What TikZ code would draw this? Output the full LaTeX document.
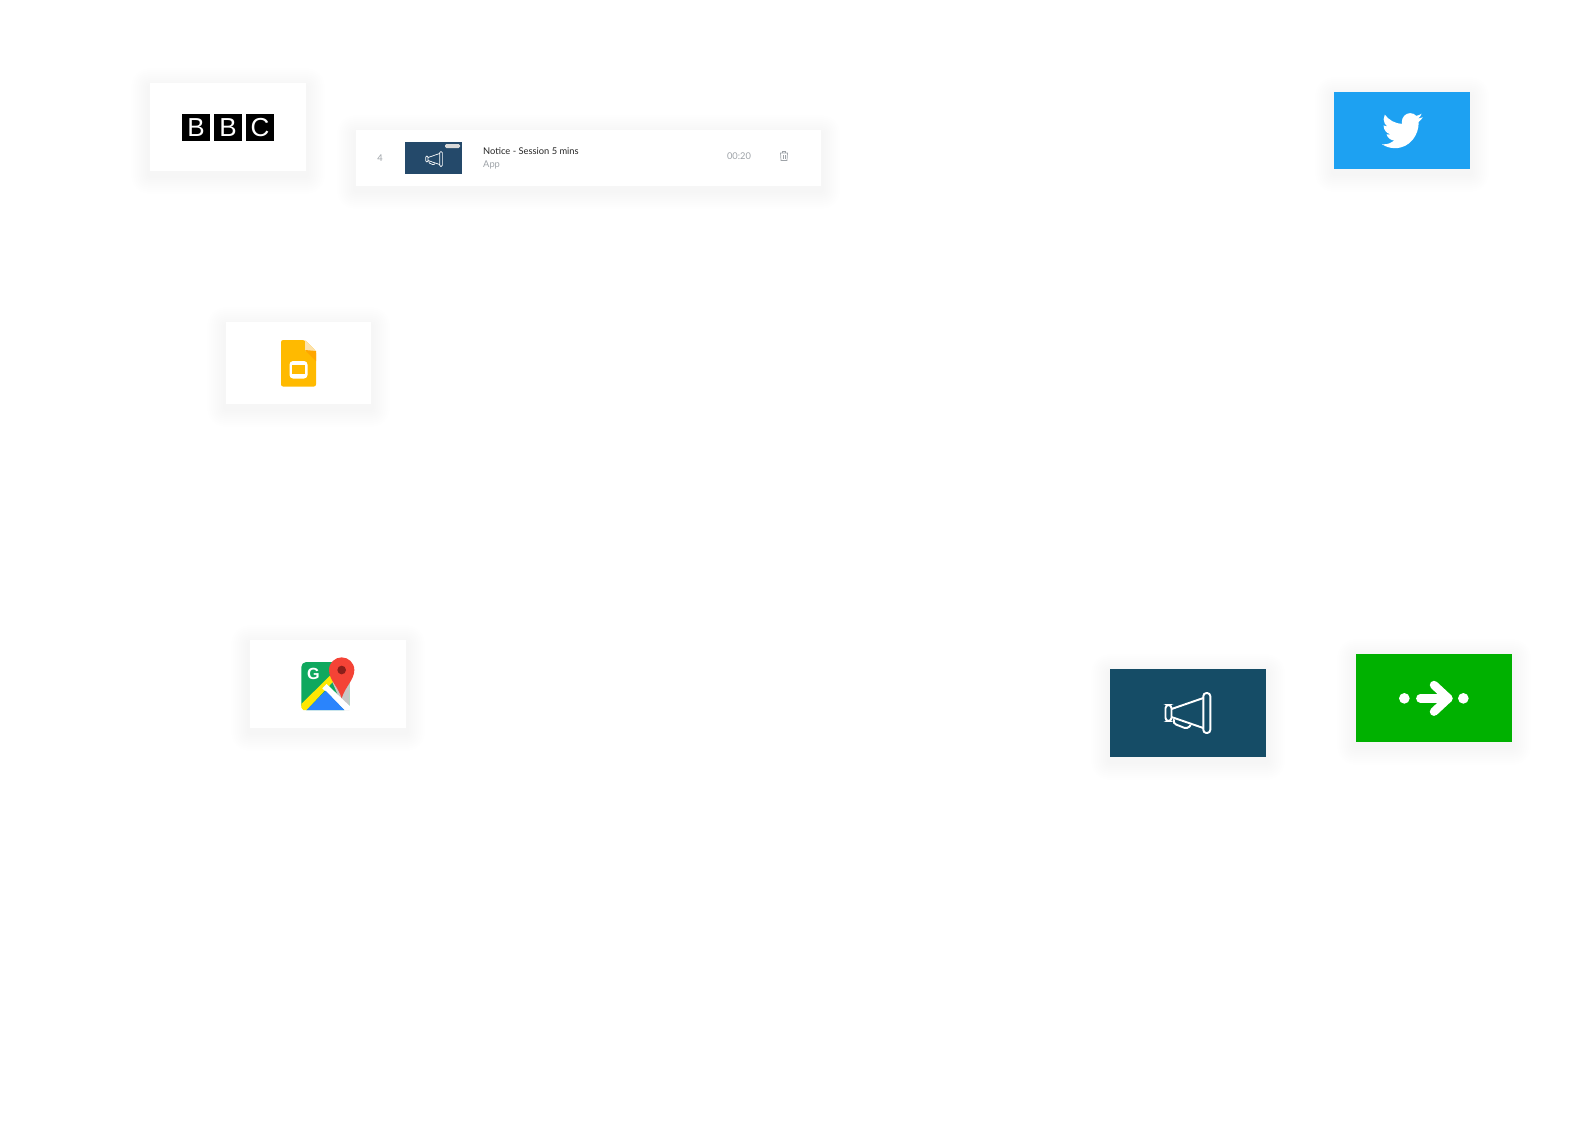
\documentclass[tikz,border=0pt]{standalone}
\usepackage{fontspec}
\usepackage{xcolor}
\usetikzlibrary{calc}
\usetikzlibrary{backgrounds}
\newfontfamily\rowfont{Lato}
\newfontfamily\logofont{Liberation Sans}
\definecolor{twitterblue}{HTML}{1DA1F2}
\definecolor{noticeblue}{HTML}{154C66}
\definecolor{thumbblue}{HTML}{24496A}
\definecolor{citygreen}{HTML}{00B100}
\definecolor{slideyellow}{HTML}{FFBA00}
\definecolor{rowgrey}{HTML}{9EA3A8}
\definecolor{mapgreen}{HTML}{0FA85E}
\definecolor{mapblue}{HTML}{2A84FC}
\definecolor{pinred}{HTML}{F44336}
\definecolor{pindark}{HTML}{8B1F1A}
\tikzset{
    card/.style={inner sep=0pt,fill=white,minimum width=1.56cm,minimum height=.88cm},
    bbcbox/.style={inner sep=0pt,fill=black,text=white,minimum width=.28cm,minimum height=.27cm,font=\logofont\fontsize{7.4}{8}\selectfont},
    rowtext/.style={inner sep=0pt,text=rowgrey,font=\rowfont\fontsize{2.65}{3}\selectfont},
    megaphone/.pic={
        \draw (18.3,-20) rectangle (25.3,20);
        \draw (-19.5,-8) rectangle (-13.5,8);
        \draw (-13.5,-4)--(18.3,-15);
        \draw (-13.5,4)--(18.3,15);
        \draw (-11,6.3)--(-12,10.3)--(2.3,16)--(5.7,12);
    }
}
\begin{document}
\begin{tikzpicture}[x=0.01cm,y=-0.01cm]
        \useasboundingbox (0,0) rectangle (1572,1144);
        \node[card] (bbc) at (228,127){};
        \node[card,fill=twitterblue,minimum width=1.36cm,minimum height=.77cm] (twitter) at (1402,130.5){};
        \node[card,minimum width=1.45cm,minimum height=.82cm] (slides) at (298.5,363){};
        \node[card] (maps) at (328,684){};
        \node[card,fill=noticeblue] (notice) at (1188,713){};
        \node[card,fill=citygreen] (citymapper) at (1434,698){};
        \node[card,minimum width=4.65cm,minimum height=.56cm] (row) at (588.5,158){};
        \begin{scope}[on background layer]
            \fill[white] (0,0) rectangle (1572,1144);
            \foreach \card in {bbc,twitter,slides,maps,notice,citymapper,row}
                \foreach \r in {2,4,...,18}
                    \fill[black,opacity=.003,rounded corners=\r*.28pt] ($(\card.north west)+(-\r,-\r+4)$) rectangle ($(\card.south east)+(\r,\r+4)$);
        \end{scope}

        \node[bbcbox] (bbcb) at (196,127.5){B};
        \node[bbcbox] (bbcbb) at (228,127.5){B};
        \node[bbcbox] (bbcc) at (260,127.5){C};

        \begin{scope}[shift={(1382,109)},xscale=1.7,yscale=1.8]
            \fill[white] (24,4.589) .. controls (23.1,4.98) and (22.14,5.23) .. (21.128,5.345) .. controls (22.14,4.73) and (22.92,3.77) .. (23.291,2.622) .. controls (22.34,3.177) and (21.286,3.581) .. (20.164,3.806) .. controls (19.26,2.84) and (18,2.29) .. (16.57,2.29) .. controls (13.85,2.29) and (11.65,4.5) .. (11.65,7.21) .. controls (11.65,7.6) and (11.69,7.96) .. (11.78,8.288) .. controls (7.69,8.095) and (4.067,6.13) .. (1.64,3.162) .. controls (1.213,3.884) and (.974,4.723) .. (.974,5.637) .. controls (.974,7.347) and (1.844,8.85) .. (3.162,9.733) .. controls (2.355,9.707) and (1.596,9.485) .. (.934,9.117) -- (.934,9.177) .. controls (.934,11.562) and (2.627,13.551) .. (4.88,14.004) .. controls (4.467,14.115) and (4.031,14.175) .. (3.584,14.175) .. controls (3.27,14.175) and (2.969,14.145) .. (2.668,14.089) .. controls (3.299,16.042) and (5.113,17.466) .. (7.272,17.506) .. controls (5.592,18.825) and (3.463,19.611) .. (1.17,19.611) .. controls (.78,19.611) and (.391,19.588) .. (0,19.544) .. controls (2.189,20.938) and (4.768,21.753) .. (7.557,21.753) .. controls (16.611,21.753) and (21.556,14.257) .. (21.556,7.767) .. controls (21.556,7.558) and (21.556,7.347) .. (21.541,7.137) .. controls (22.502,6.448) and (23.341,5.577) .. (24,4.589) -- cycle;
        \end{scope}

        \fill[slideyellow,rounded corners=.6pt] (281,340)--(305,340)--(316,351)--(316,386.5)--(281,386.5)--cycle;
        \fill[yellow!30!orange!30!white] (305,340)--(316,351)--(305,351)--cycle;
        \fill[orange!70!yellow] (305,350)--(316,361)--(316,351)--cycle;
        \fill[white,rounded corners=1pt] (289.5,361)--(307.5,361)--(307.5,378.5)--(289.5,378.5)--cycle;
        \fill[slideyellow] (292,365)--(305,365)--(305,374)--(292,374)--cycle;

        \begin{scope}[shift={(245,635)},scale=1/3]
            \fill[mapgreen,rounded corners=1.4pt] (169,225) rectangle (313,81);
            \fill[black!22,rounded corners=1.4pt] (255,125)--(290,81)--(313,81)--(313,225)--(298,225)--cycle;
            \fill[yellow!90!orange] (255,122)--(268,136)--(185,225)--(175,225)--(169,218)--(169,207)--cycle;
            \fill[white] (232,160)--(245,147)--(313,212)--(313,225)--(298,225)--cycle;
            \fill[mapblue] (185,225)--(242,167)--(298,225)--cycle;
            \fill[pinred] (290,190) .. controls (280,155) and (252,135) .. (252,105) .. controls (252,83) and (270,67) .. (290,67) .. controls (310,67) and (328,83) .. (328,105) .. controls (328,135) and (300,155) .. (290,190) -- cycle;
            \fill[pindark] (290,105) circle (13);
            \node[inner sep=0pt,text=white,font=\logofont\bfseries\fontsize{4.6}{5}\selectfont] (mapsg) at (205,118){G};
        \end{scope}

        \pic[scale=1,color=white,line width=.55pt,rounded corners=.9pt] (bigicon) at (1185,713) {megaphone};

        \begin{scope}[shift={(1345,645)},scale=1/3]
            \fill[white] (178,160) circle (16);
            \fill[white] (355,160) circle (16);
            \draw[white,line width=2.4pt,line cap=round,line join=round] (226,160)--(310,160);
            \draw[white,line width=2.4pt,line cap=round,line join=round] (267,120)--(310,160)--(267,200);
        \end{scope}

        \node[rowtext,anchor=center] (rownum) at (380,158){4};
        \node[inner sep=0pt,fill=thumbblue,minimum width=.57cm,minimum height=.32cm] (thumb) at (433.5,158){};
        \pic[scale=.37,color=white,line width=.2pt,rounded corners=.3pt] (smallicon) at (433,159) {megaphone};
        \fill[black!15,rounded corners=.4pt] (445,144) rectangle (460,148);
        \node[rowtext,anchor=base west,text=black!85] (rowtitle) at (482.5,154.5){Notice - Session 5 mins};
        \node[rowtext,anchor=base west] (rowapp) at (482.5,167){App};
        \node[rowtext,anchor=center] (rowtime) at (739,156.5){00:20};
        \draw[rowgrey,line width=.2pt] (780.5,153)--(787.5,153)--(787,160.5)--(781,160.5)--cycle;
        \draw[rowgrey,line width=.2pt] (782.5,153)--(782.5,151.5)--(785.5,151.5)--(785.5,153);
        \draw[rowgrey,line width=.15pt] (783,155)--(783,159);
        \draw[rowgrey,line width=.15pt] (785,155)--(785,159);
\end{tikzpicture}
\end{document}
